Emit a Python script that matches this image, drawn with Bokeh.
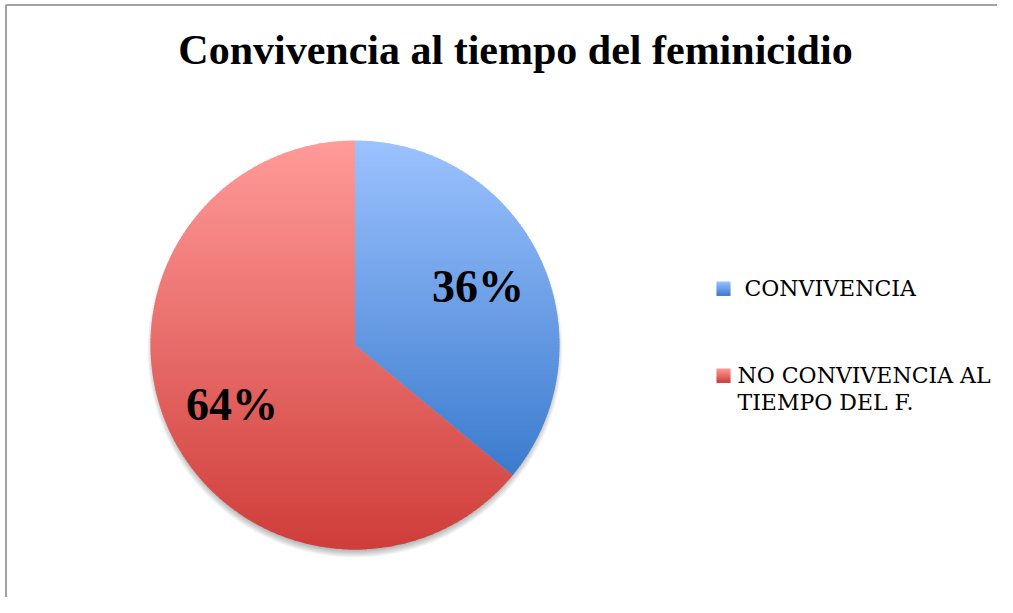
import numpy as np
from bokeh.plotting import figure
from bokeh.models import Range1d, ColumnDataSource
from bokeh.core.properties import value
from bokeh.embed import file_html
from bokeh.resources import INLINE

# ---------------- data ----------------
title_text = "Convivencia al tiempo del feminicidio"
categories = ["\u00a0CONVIVENCIA", "NO CONVIVENCIA AL\nTIEMPO DEL F."]
percentages = [36, 64]
top_colors = ["#9cc2ff", "#ff9b99"]
bottom_colors = ["#3b7bcd", "#cf3d39"]

# ---------------- layout ----------------
W, H = 997, 597
FONT = "Liberation Serif"
LEG_FONT = "DejaVu Serif"
cx, cy, R = 354.5, 344.5, 204.5

p = figure(width=W, height=H, output_backend="svg", toolbar_location=None,
           x_range=Range1d(0, W), y_range=Range1d(H, 0),
           x_axis_location=None, y_axis_location=None, min_border=0,
           background_fill_color="white", border_fill_color="white",
           outline_line_color=None)
p.grid.visible = False

# chart frame border (left + top, like the cropped reference)
p.line([5.5, 5.5, W], [H, 4.5, 4.5], line_color="#a3a3a3", line_width=2)


def hex2rgb(h):
    h = h.lstrip("#")
    return np.array([int(h[i:i + 2], 16) for i in (0, 2, 4)], dtype=float)


def rgb2hex(c):
    c = np.clip(np.round(c), 0, 255).astype(int)
    return "#%02x%02x%02x" % tuple(c)


def clip_half(poly, yv, keep_greater):
    out = []
    n = len(poly)
    for i in range(n):
        P = poly[i]
        Q = poly[(i + 1) % n]
        inP = P[1] >= yv if keep_greater else P[1] <= yv
        inQ = Q[1] >= yv if keep_greater else Q[1] <= yv
        if inP:
            out.append(P)
        if inP != inQ:
            t = (yv - P[1]) / (Q[1] - P[1])
            out.append((P[0] + t * (Q[0] - P[0]), yv))
    return out


# soft shadow under the pie (mostly below)
for i in range(8):
    p.circle(x=[cx], y=[cy + 5], radius=R - 4 + i, fill_color="black",
             fill_alpha=0.04, line_color=None)

total = float(sum(percentages))
start = 90.0
label_pos = []
for k, v in enumerate(percentages):
    sweep = 360.0 * v / total
    a0, a1 = start, start - sweep
    n = max(int(sweep / 0.4), 3)
    th = np.radians(np.linspace(a0, a1, n))
    poly = [(cx, cy)] + list(zip(cx + R * np.cos(th), cy - R * np.sin(th)))
    ys_all = [q[1] for q in poly]
    ymin, ymax = min(ys_all), max(ys_all)
    c_top, c_bot = hex2rgb(top_colors[k]), hex2rgb(bottom_colors[k])
    step = 3.0
    xs_list, ys_list, cols = [], [], []
    y0 = ymin
    while y0 < ymax:
        y1 = min(y0 + step + 1.0, ymax)
        band = clip_half(clip_half(poly, y0, True), y1, False)
        if len(band) >= 3:
            t = (y0 + step / 2 - ymin) / (ymax - ymin)
            t = min(max(t, 0.0), 1.0)
            xs_list.append([q[0] for q in band])
            ys_list.append([q[1] for q in band])
            cols.append(rgb2hex(c_top + (c_bot - c_top) * t))
        y0 += step
    src = ColumnDataSource(dict(xs=xs_list, ys=ys_list, color=cols))
    p.patches("xs", "ys", source=src, fill_color="color", line_color=None)
    mid = np.radians((a0 + a1) / 2)
    label_pos.append((cx + 0.665 * R * np.cos(mid), cy - 0.665 * R * np.sin(mid)))
    start = a1

# percentage labels
p.text(x=[q[0] for q in label_pos], y=[q[1] - 1 + 3 * k for k, q in enumerate(label_pos)],
       text=[f"{v}%" for v in percentages],
       text_font=value(FONT), text_font_style="bold", text_font_size="46px",
       text_align="center", text_baseline="middle", text_color="black")

# title
p.text(x=[515], y=[49], text=[title_text], text_font=value(FONT),
       text_font_style="bold", text_font_size="42px",
       text_align="center", text_baseline="middle", text_color="black")

# legend (drawn manually: gradient swatch + serif labels)
leg_x, leg_y0, leg_gap, line_h, sw = 716, 288, 87, 26.5, 14
for k, lab in enumerate(categories):
    yc = leg_y0 + k * leg_gap
    c_top, c_bot = hex2rgb(top_colors[k]), hex2rgb(bottom_colors[k])
    nb = 7
    tops = [yc - sw / 2 + j * sw / nb for j in range(nb)]
    p.quad(left=[leg_x] * nb, right=[leg_x + sw] * nb,
           top=tops, bottom=[t + sw / nb + 0.5 for t in tops],
           fill_color=[rgb2hex(c_top + (c_bot - c_top) * (j + 0.5) / nb) for j in range(nb)],
           line_color=None)
    lines = lab.split("\n")
    p.text(x=[leg_x + sw + 7] * len(lines),
           y=[yc + j * line_h for j in range(len(lines))],
           text=lines, text_font=value(LEG_FONT), text_font_size="22px",
           text_align="left", text_baseline="middle", text_color="black")

open("out.html", "w").write(file_html(p, INLINE))
